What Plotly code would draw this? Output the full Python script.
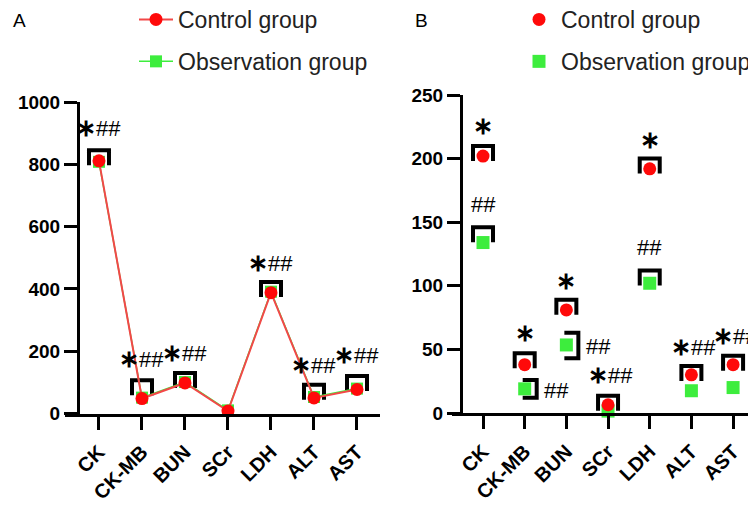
import plotly.graph_objects as go

# ---------------- data ----------------
categories = ["CK", "CK-MB", "BUN", "SCr", "LDH", "ALT", "AST"]
y_ticks_a = [0, 200, 400, 600, 800, 1000]
y_ticks_b = [0, 50, 100, 150, 200, 250]

a_control = [811, 48, 98, 8, 388, 50, 77]
a_observation = [808, 51, 101, 10, 391, 53, 80]
a_bracket_top = [845, 107, 130, None, 422, 92, 120]
a_marks = ["*##", "*##", "*##", "", "*##", "*##", "*##"]
a_mark_y = [917, 178, 197, None, 486, 156, 188]

b_control = [202, 38, 81, 6.5, 192, 30, 38]
b_observation = [134, 19, 53.5, 1.5, 102, 17.5, 20]
b_control_bracket_top = [210, 47, 89, 13.5, 200, 37, 45]
b_observation_bracket_top = [146, None, None, None, 112, None, None]
b_side_bracket_low = [None, 12, 43, None, None, None, None]
b_side_bracket_high = [None, 26, 63, None, None, None, None]
b_star_y = [226, 63, 104, None, 215, None, None]
b_hash_y = [164, 18, 52, None, 130, None, None]
b_combined_y = [None, None, None, 30, None, 52, 61]

# ---------------- layout geometry (reference pixels) ----------------
OFF = 8                      # page body margin of the html page
W, H = 756 - OFF, 505 - OFF  # figure size so that it ends at the window edge
A_X_PX = (65, 380); A_XR = (-0.79, 6.535); A_YAX_PX = 78; A_Y_PX = (413.5, 102); A_YR = (0, 1000)
B_X_PX = (452, 756); B_XR = (-0.744, 6.55); B_YAX_PX = 461; B_Y_PX = (413, 95); B_YR = (0, 250)


def px_x(p):
    return (p - OFF) / W


def px_y(p):
    return 1 - (p - OFF) / H


RED = "#ff0a0a"
RED_LINE = "#f24848"
GREEN = "#3ded3d"
FONT = "Liberation Sans, Arial, sans-serif"

idx = list(range(len(categories)))


def units(xpx, ypx, x_px, xr, y_px, yr):
    ux = (xr[1] - xr[0]) / (x_px[1] - x_px[0])
    uy = (yr[1] - yr[0]) / (y_px[0] - y_px[1])
    return xpx * ux, ypx * uy


def cap_brackets(tops, half_w, drop):
    xs, ys = [], []
    for i, t in zip(idx, tops):
        if t is None:
            continue
        xs += [i - half_w, i - half_w, i + half_w, i + half_w, None]
        ys += [t - drop, t, t, t - drop, None]
    return xs, ys


def side_brackets(lows, highs, x_off, tick):
    xs, ys = [], []
    for i, lo, hi in zip(idx, lows, highs):
        if lo is None:
            continue
        xs += [i + x_off - tick, i + x_off, i + x_off, i + x_off - tick, None]
        ys += [hi, hi, lo, lo, None]
    return xs, ys


fig = go.Figure()

# ---------- Panel A ----------
hw_a, drop_a = units(10, 15, A_X_PX, A_XR, A_Y_PX, A_YR)
bx, by = cap_brackets(a_bracket_top, hw_a, drop_a)
fig.add_trace(go.Scatter(x=bx, y=by, mode="lines", line=dict(color="black", width=4),
                         showlegend=False, hoverinfo="skip", xaxis="x", yaxis="y", cliponaxis=False))
fig.add_trace(go.Scatter(x=idx, y=a_observation, mode="lines+markers", name="Observation group",
                         line=dict(color=GREEN, width=1.5),
                         marker=dict(symbol="square", size=12, color=GREEN),
                         legend="legend", legendrank=2, legendgroup="obs",
                         xaxis="x", yaxis="y", cliponaxis=False))
fig.add_trace(go.Scatter(x=idx, y=a_control, mode="lines+markers", name="Control group",
                         line=dict(color=RED_LINE, width=2),
                         marker=dict(symbol="circle", size=13, color=RED),
                         legend="legend", legendrank=1, legendgroup="ctrl",
                         xaxis="x", yaxis="y", cliponaxis=False))

# ---------- Panel B ----------
hw_b, drop_b = units(10, 15, B_X_PX, B_XR, B_Y_PX, B_YR)
bx1, by1 = cap_brackets(b_control_bracket_top, hw_b, drop_b)
bx2, by2 = cap_brackets(b_observation_bracket_top, hw_b, drop_b)
sx_off, _ = units(12, 0, B_X_PX, B_XR, B_Y_PX, B_YR)
sx_tick, _ = units(14, 0, B_X_PX, B_XR, B_Y_PX, B_YR)
bx3, by3 = side_brackets(b_side_bracket_low, b_side_bracket_high, sx_off, sx_tick)
fig.add_trace(go.Scatter(x=bx1 + bx2 + bx3, y=by1 + by2 + by3, mode="lines",
                         line=dict(color="black", width=4),
                         showlegend=False, hoverinfo="skip", xaxis="x2", yaxis="y2", cliponaxis=False))
fig.add_trace(go.Scatter(x=idx, y=b_observation, mode="markers", name="Observation group",
                         marker=dict(symbol="square", size=13, color=GREEN),
                         legend="legend2", legendrank=2, legendgroup="obs2",
                         xaxis="x2", yaxis="y2", cliponaxis=False))
fig.add_trace(go.Scatter(x=idx, y=b_control, mode="markers", name="Control group",
                         marker=dict(symbol="circle", size=13, color=RED),
                         legend="legend2", legendrank=1, legendgroup="ctrl2",
                         xaxis="x2", yaxis="y2", cliponaxis=False))

# ---------- annotations ----------
STAR = "<span style='font-size:24px'><b>∗</b></span>"
ann_font = dict(family=FONT, size=22, color="black")
annotations = []
for i, m, yv in zip(idx, a_marks, a_mark_y):
    if m:
        annotations.append(dict(x=i, y=yv, xref="x", yref="y", text=m.replace("*", STAR),
                                showarrow=False, font=ann_font))
for i, yv in zip(idx, b_star_y):
    if yv is not None:
        annotations.append(dict(x=i, y=yv, xref="x2", yref="y2", text=STAR,
                                showarrow=False, font=ann_font))
hash_off, _ = units(32, 0, B_X_PX, B_XR, B_Y_PX, B_YR)
for i, yv, lo in zip(idx, b_hash_y, b_side_bracket_low):
    if yv is not None:
        xv = i if lo is None else i + hash_off
        annotations.append(dict(x=xv, y=yv, xref="x2", yref="y2", text="##",
                                showarrow=False, font=ann_font))
for i, yv in zip(idx, b_combined_y):
    if yv is not None:
        annotations.append(dict(x=i + 0.05, y=yv, xref="x2", yref="y2", text=STAR + "##",
                                showarrow=False, font=ann_font))
annotations.append(dict(x=px_x(11), y=px_y(21), xref="paper", yref="paper", text="A",
                        showarrow=False, xanchor="left", yanchor="middle",
                        font=dict(family=FONT, size=19, color="black")))
annotations.append(dict(x=px_x(413), y=px_y(20), xref="paper", yref="paper", text="B",
                        showarrow=False, xanchor="left", yanchor="middle",
                        font=dict(family=FONT, size=19, color="black")))

xtick_font = dict(family=FONT, size=20, color="black", weight=700)
ytick_font = dict(family=FONT, size=19, color="black", weight=700)


def xaxis_cfg(x_px, xr, anchor):
    return dict(domain=[px_x(x_px[0]), min(1.0, px_x(x_px[1]))], range=list(xr), anchor=anchor,
                tickvals=idx, ticktext=categories, tickangle=-45, tickfont=xtick_font,
                ticklabelstandoff=3,
                showline=True, linewidth=3, linecolor="black", ticks="outside",
                ticklen=13, tickwidth=3, tickcolor="black", showgrid=False, zeroline=False,
                automargin=False)


def yaxis_cfg(y_px, yr, ax_px, tv):
    return dict(domain=[px_y(y_px[0]), px_y(y_px[1])], range=list(yr), anchor="free",
                position=px_x(ax_px), tickvals=tv, tickfont=ytick_font,
                showline=True, linewidth=3, linecolor="black", ticks="outside",
                ticklen=13, tickwidth=3, tickcolor="black", showgrid=False, zeroline=False,
                automargin=False)


legend_font = dict(family=FONT, size=23, color="#222222")
fig.update_layout(
    width=W, height=H,
    margin=dict(l=0, r=0, t=0, b=0, autoexpand=False),
    paper_bgcolor="white", plot_bgcolor="white",
    showlegend=True,
    xaxis=xaxis_cfg(A_X_PX, A_XR, "y"),
    yaxis=yaxis_cfg(A_Y_PX, A_YR, A_YAX_PX, y_ticks_a),
    xaxis2=xaxis_cfg(B_X_PX, B_XR, "y2"),
    yaxis2=yaxis_cfg(B_Y_PX, B_YR, B_YAX_PX, y_ticks_b),
    legend=dict(x=px_x(134), y=px_y(-2), xanchor="left", yanchor="top", font=legend_font,
                itemwidth=34, tracegroupgap=9, bgcolor="rgba(0,0,0,0)"),
    legend2=dict(x=px_x(517), y=px_y(-2), xanchor="left", yanchor="top", font=legend_font,
                 itemwidth=34, tracegroupgap=9, bgcolor="rgba(0,0,0,0)"),
    annotations=annotations,
)

fig.write_html("out.html")
